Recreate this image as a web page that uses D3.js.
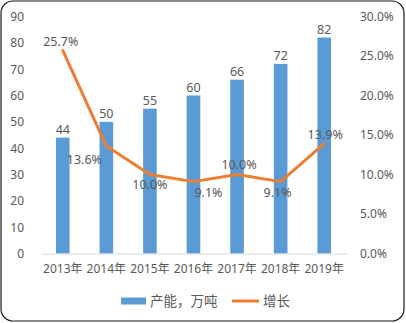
<!DOCTYPE html>
<html><head><meta charset="utf-8">
<script src="https://cdn.jsdelivr.net/npm/d3@7"></script>
<style>
html,body{margin:0;padding:0;background:#fff;}
svg text{font-family:"Noto Sans","Noto Sans CJK SC",sans-serif;fill:#595959;}
</style></head>
<body><svg id="c" width="406" height="323"></svg>
<script>
const categories = ["2013年","2014年","2015年","2016年","2017年","2018年","2019年"];
const capacity = [44, 50, 55, 60, 66, 72, 82];
const growth = [25.7, 13.6, 10.0, 9.1, 10.0, 9.1, 13.9];
const leftTicks = [0,10,20,30,40,50,60,70,80,90];
const rightTicks = [0,5,10,15,20,25,30];
const seriesNames = ["产能，万吨","增长"];
// label offsets (dx, dy) relative to the line point
const growthLabelOffset = [[-2,-9],[-22,14],[0,10],[15,11],[2,-10],[-3,11],[1,-9]];

const svg = d3.select("#c");
svg.append("rect").attr("x",1).attr("y",1).attr("width",403).attr("height",320)
  .attr("rx",12).attr("fill","#fff").attr("stroke","#1a1a1a").attr("stroke-width",1.2);

const x0 = 41, x1 = 346, yBase = 253.5, yTop = 16.5;
const x = d3.scaleBand().domain(categories).range([x0,x1]).paddingInner(0).paddingOuter(0);
const yL = d3.scaleLinear().domain([0,90]).range([yBase,yTop]);
const yR = d3.scaleLinear().domain([0,30]).range([yBase,yTop]);
const cx = d => x(d) + x.bandwidth()/2;
const bw = 13.6;

// bars
svg.selectAll(".bar").data(capacity).enter().append("rect")
  .attr("x",(d,i)=>cx(categories[i])-bw/2).attr("width",bw)
  .attr("y",d=>yL(d)).attr("height",d=>yBase-yL(d)).attr("fill","#5B9BD5");

// baseline axis
const xAxis = d3.axisBottom(x).tickSize(0).tickPadding(11);
const gx = svg.append("g").attr("transform",`translate(0,${yBase})`).call(xAxis);
gx.select(".domain").attr("stroke","#d9d9d9").attr("stroke-width",1);
gx.selectAll("text").attr("font-size",12).style("font-family","'Noto Sans','Noto Sans CJK SC',sans-serif").attr("fill","#595959");

// left axis
const gl = svg.append("g").attr("transform",`translate(24,0)`)
  .call(d3.axisLeft(yL).tickValues(leftTicks).tickSize(0).tickPadding(0));
gl.select(".domain").remove();
gl.selectAll("text").attr("font-size",12).attr("fill","#595959").style("font-family","'Noto Sans',sans-serif");

// right axis
const gr = svg.append("g").attr("transform",`translate(360,0)`)
  .call(d3.axisRight(yR).tickValues(rightTicks).tickSize(0).tickPadding(0).tickFormat(d=>d.toFixed(1)+"%"));
gr.select(".domain").remove();
gr.selectAll("text").attr("font-size",12).attr("fill","#595959").style("font-family","'Noto Sans',sans-serif");

// bar labels
svg.selectAll(".bl").data(capacity).enter().append("text")
  .attr("x",(d,i)=>cx(categories[i])).attr("y",d=>yL(d)-4)
  .attr("text-anchor","middle").attr("font-size",12.5).text(d=>d);

// line
const line = d3.line().x((d,i)=>cx(categories[i])).y(d=>yR(d));
svg.append("path").datum(growth).attr("d",line).attr("fill","none")
  .attr("stroke","#ED7D31").attr("stroke-width",3).attr("stroke-linejoin","round").attr("stroke-linecap","round");

// line labels
svg.selectAll(".ll").data(growth).enter().append("text")
  .attr("x",(d,i)=>cx(categories[i])+growthLabelOffset[i][0])
  .attr("y",(d,i)=>yR(d)+growthLabelOffset[i][1])
  .attr("dy","0.35em").attr("text-anchor","middle").attr("font-size",12.5)
  .text(d=>d.toFixed(1)+"%");

// legend
const lg = svg.append("g");
lg.append("rect").attr("x",121).attr("y",297.5).attr("width",25).attr("height",7).attr("fill","#5B9BD5");
lg.append("text").attr("x",150).attr("y",301).attr("dy","0.35em").attr("font-size",13.5)
  .style("font-family","'Noto Sans CJK SC',sans-serif").text(seriesNames[0]);
lg.append("line").attr("x1",232).attr("x2",259).attr("y1",301).attr("y2",301)
  .attr("stroke","#ED7D31").attr("stroke-width",3);
lg.append("text").attr("x",263).attr("y",301).attr("dy","0.35em").attr("font-size",13.5)
  .style("font-family","'Noto Sans CJK SC',sans-serif").text(seriesNames[1]);
</script></body></html>
